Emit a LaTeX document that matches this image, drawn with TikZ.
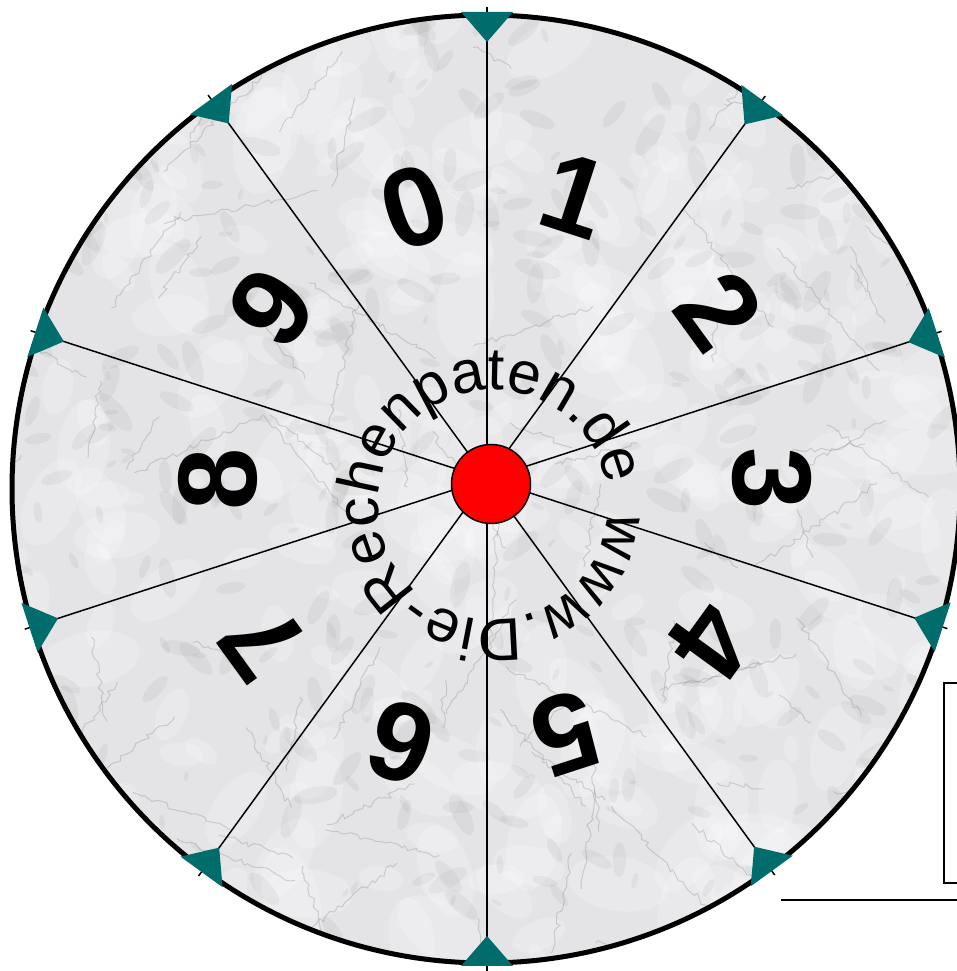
\documentclass[tikz,border=0pt]{standalone}
\usepackage{fontspec}
\setmainfont{Liberation Sans}
\usetikzlibrary{calc,decorations.text,decorations.pathmorphing}
\definecolor{pointteal}{RGB}{0,108,108}
\definecolor{marblebase}{RGB}{228,228,231}
\begin{document}
\begin{tikzpicture}[x=1pt,y=1pt,
  spoke/.style={line width=1.5pt,black},
  rim/.style={line width=5pt,black},
  pointer/.style={fill=pointteal},
  digit/.style={font=\fontsize{112}{112}\selectfont\bfseries,inner sep=0pt},
  frameline/.style={line width=2pt,black}]
\useasboundingbox (0,0) rectangle (956,971);
\fill[white] (0,0) rectangle (956,971);
\coordinate (C) at (486,482);
\coordinate (H) at (487,492);
\coordinate (T) at (493,466);
\coordinate (D) at (491,487);
% marble
\begin{scope}
  \clip (C) circle[radius=474];
  \fill[marblebase] (C) circle[radius=474];
  \pgfmathsetseed{4711}
  \foreach \k in {1,...,320}{
    \pgfmathsetmacro\px{10+rnd*940}
    \pgfmathsetmacro\py{10+rnd*950}
    \pgfmathsetmacro\rr{8+rnd*28}
    \pgfmathsetmacro\an{rnd*180}
    \fill[white,opacity=0.22,rotate around={\an:(\px,\py)}] (\px,\py) ellipse[x radius=\rr*1.5,y radius=\rr*0.8];
  }
  \foreach \k in {1,...,420}{
    \pgfmathsetmacro\px{10+rnd*940}
    \pgfmathsetmacro\py{10+rnd*950}
    \pgfmathsetmacro\rr{3+rnd*12}
    \pgfmathsetmacro\an{rnd*180}
    \fill[gray,opacity=0.09,rotate around={\an:(\px,\py)}] (\px,\py) ellipse[x radius=\rr*1.6,y radius=\rr*0.6];
  }
  \foreach \k in {1,...,90}{
    \pgfmathsetmacro\px{10+rnd*940}
    \pgfmathsetmacro\py{10+rnd*950}
    \pgfmathsetmacro\an{rnd*360}
    \pgfmathsetmacro\ln{40+rnd*120}
    \draw[gray,opacity=0.3,line width=1pt,decorate,decoration={random steps,segment length=5pt,amplitude=3pt}] (\px,\py) -- ++(\an:\ln);
  }
\end{scope}
% spokes
\foreach \i/\a in {0/90,1/54,2/18,3/-18,4/-54,5/-90,6/-126,7/-162,8/162,9/126}{
  \pgfmathsetmacro\t{474-(cos(\a)+10*sin(\a))}
  \coordinate (s\i) at ($(H)+(\a:\t+8)$);
  \draw[spoke] (H) -- (s\i);
}
\draw[rim] (C) circle[radius=474];
% pointers
\foreach \i/\a in {0/90,1/54,2/18,3/-18,4/-54,5/-90,6/-126,7/-162,8/162,9/126}{
  \pgfmathsetmacro\t{474-(cos(\a)+10*sin(\a))}
  \fill[pointer] ($(H)+(\a:\t+3)+(\a+90:26)$) -- ($(H)+(\a:\t-27)$) -- ($(H)+(\a:\t+3)+(\a-90:26)$) -- cycle;
}
% circular text
\path[decorate,decoration={text along path,text align={fit to path},
  text={|\fontsize{60}{60}\selectfont|www.Die-Rechenpaten.de}}]
  (T) ++(-3:115) arc[start angle=-3,delta angle=-341,radius=115];
% digits
\foreach \d/\ang/\rad/\rot in {0/105/281/18,1/72.8/297/-18,2/36/287/-54,3/0/285/-90,4/-36/277/-126,5/-72.8/266/-162,6/-108/277/162,7/-144/277/126,8/180/269/90,9/141.5/275/54}{
  \node[digit,rotate=\rot] (d\d) at ($(H)+(\ang:\rad)$) {\d};
}
% hub
\draw[line width=1.5pt,fill=red] (D) circle[radius=39.5];
% frame at right
\draw[frameline] (944,88) rectangle (975,288);
\draw[frameline] (781,71) -- (975,71);
\end{tikzpicture}
\end{document}
